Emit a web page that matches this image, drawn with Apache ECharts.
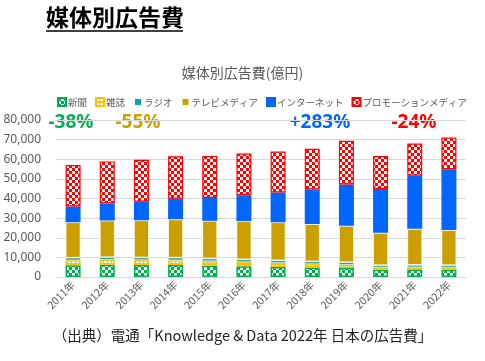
<!DOCTYPE html>
<html><head><meta charset="utf-8">
<script src="https://cdn.jsdelivr.net/npm/echarts@6/dist/echarts.min.js"></script>
<style>html,body{margin:0;padding:0;background:#fff}#c{width:485px;height:361px}</style>
</head><body><div id="c"></div>
<script>
const years = ['2011年','2012年','2013年','2014年','2015年','2016年','2017年','2018年','2019年','2020年','2021年','2022年'];
const newspaper = [5990,6242,6170,6057,5679,5431,5147,4784,4547,3688,3815,3697];
const magazine  = [2542,2551,2499,2500,2443,2223,2023,1841,1675,1223,1224,1140];
const radio     = [1247,1246,1243,1272,1254,1285,1290,1278,1260,1066,1106,1129];
const tv        = [18128,18770,19023,19564,19323,19657,19478,19123,18612,16559,18393,18019];
const internet  = [8062,8680,9381,10519,11594,13100,15094,17589,21048,22290,27052,30912];
const promotion = [21127,21424,21446,21610,21417,21184,20875,20685,22239,16768,16408,16124];
const seriesNames = ['新聞','雑誌','ラジオ','テレビメディア','インターネット','プロモーションメディア'];
const yTicks = [0,10000,20000,30000,40000,50000,60000,70000,80000];
const notes = [
  {text:'-38%', color:'#00B050', x:71},
  {text:'-55%', color:'#CC9F00', x:138},
  {text:'+283%', color:'#0066FF', x:320},
  {text:'-24%', color:'#FF0000', x:414}
];

function checker(col, size){
  const c = document.createElement('canvas');
  c.width = size*2; c.height = size*2;
  const g = c.getContext('2d');
  g.fillStyle = '#fff'; g.fillRect(0,0,size*2,size*2);
  g.fillStyle = col;
  g.fillRect(0,0,size,size); g.fillRect(size,size,size,size);
  return {image:c, repeat:'repeat'};
}
function dashPat(col){
  const c = document.createElement('canvas');
  c.width = 4; c.height = 4;
  const g = c.getContext('2d');
  g.fillStyle = col; g.fillRect(0,0,4,4);
  g.fillStyle = '#fff'; g.fillRect(0,1,3,2);
  return {image:c, repeat:'repeat'};
}

const chart = echarts.init(document.getElementById('c'), null, {renderer:'canvas'});
const FONT = '"Noto Sans CJK JP","Noto Sans",sans-serif';
const bw = 15;
const series = [
  {name:seriesNames[0], data:newspaper, itemStyle:{color:checker('#00B050',3), borderColor:'#00B050', borderWidth:1.5}},
  {name:seriesNames[1], data:magazine, itemStyle:{color:dashPat('#FFC000'), borderColor:'#FFC000', borderWidth:1.5}},
  {name:seriesNames[2], data:radio, itemStyle:{color:'#129FB6', borderColor:'#fff', borderWidth:0.5}},
  {name:seriesNames[3], data:tv, itemStyle:{color:'#CC9F00', borderColor:'#fff', borderWidth:0.8}},
  {name:seriesNames[4], data:internet, itemStyle:{color:'#0066FF', borderColor:'#0066FF', borderWidth:3}},
  {name:seriesNames[5], data:promotion, itemStyle:{color:checker('#FF0000',3), borderColor:'#FF0000', borderWidth:1.2}}
].map(s => Object.assign({type:'bar', stack:'total', barWidth:bw, emphasis:{disabled:true}}, s));

chart.setOption({
  animation:false,
  textStyle:{fontFamily:FONT},
  title:{text:'媒体別広告費(億円)', left:'center', top:61, textStyle:{fontSize:14, fontWeight:'normal', color:'#595959', fontFamily:FONT}},
  legend:{data:seriesNames, left:52, top:92, width:433, itemWidth:8, itemHeight:8, itemGap:8, icon:'rect',
    textStyle:{fontSize:9.5, color:'#595959', fontFamily:FONT, padding:[0,0,0,-3]}},
  grid:{left:56, right:19, top:120, bottom:84},
  xAxis:{type:'category', data:years,
    axisLine:{lineStyle:{color:'#d9d9d9'}}, axisTick:{show:false},
    axisLabel:{rotate:45, fontSize:10.5, color:'#595959', margin:6, interval:0, fontFamily:FONT}},
  yAxis:{type:'value', min:yTicks[0], max:yTicks[yTicks.length-1], interval:yTicks[1]-yTicks[0],
    axisLine:{show:false}, axisTick:{show:false},
    splitLine:{lineStyle:{color:'#d9d9d9', width:1}},
    axisLabel:{fontSize:12, color:'#595959', margin:15, fontFamily:'"Noto Sans",sans-serif',
      formatter:v => v.toString().replace(/\B(?=(\d{3})+(?!\d))/g, ',')}},
  series:series,
  graphic:[
    {type:'text', left:46, top:6, style:{text:'媒体別広告費', font:'bold 23px '+FONT, fill:'#000'}},
    {type:'line', shape:{x1:46, y1:31, x2:183, y2:31}, style:{stroke:'#000', lineWidth:1.5}},
    {type:'text', left:'center', top:328, style:{text:'（出典）電通「Knowledge & Data 2022年 日本の広告費」', font:'14.5px '+FONT, fill:'#222'}}
  ].concat(notes.map(n => ({type:'text', x:n.x, y:123, style:{text:n.text, font:'bold 19px "Noto Sans",sans-serif', fill:n.color, align:'center', verticalAlign:'middle'}})))
});
</script></body></html>
